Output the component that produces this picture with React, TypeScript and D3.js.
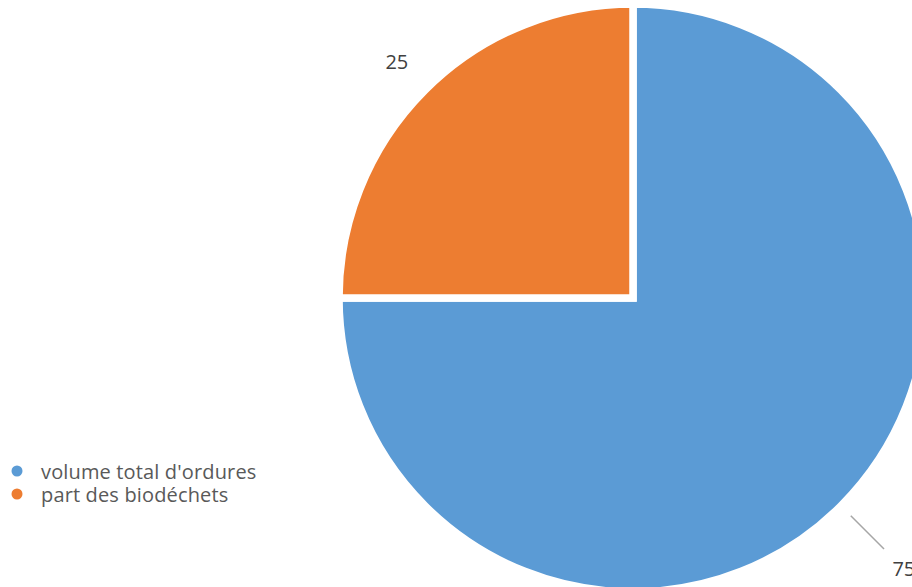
import React from "react";
import * as d3 from "d3";

const categories = ["volume total d'ordures", "part des biodéchets"];
const values = [75, 25];
const colors = ["#5B9BD5", "#ED7D31"];

const W = 912;
const H = 587;
const cx = 633;
const cy = 298;
const R = 294;

export default function App() {
  const pie = d3.pie<number>().sort(null).value((d) => d);
  const arcs = pie(values);
  const arc = d3.arc<d3.PieArcDatum<number>>().innerRadius(0).outerRadius(R);
  const polar = (a: number, r: number) => [Math.sin(a) * r, -Math.cos(a) * r];
  const labelR = [383, 334];
  return (
    <svg
      width={W}
      height={H}
      style={{ position: "absolute", left: 0, top: 0, fontFamily: "'Open Sans', sans-serif" }}
    >
      <rect width={W} height={H} fill="#fff" />
      <g transform={`translate(${cx},${cy})`}>
        <circle r={R - 1} fill="none" stroke="#e6e6e6" strokeWidth={1} />
        {arcs.map((a, i) => (
          <path key={i} d={arc(a) || ""} fill={colors[i]} stroke="#fff" strokeWidth={7.5} strokeLinejoin="miter" />
        ))}
        {arcs.map((a, i) => {
          const mid = (a.startAngle + a.endAngle) / 2;
          const [lx, ly] = polar(mid, labelR[i]);
          const hasLeader = i === 0;
          const [x1, y1] = polar(mid, 308);
          const [x2, y2] = polar(mid, 355);
          return (
            <g key={"l" + i}>
              {hasLeader && <line x1={x1} y1={y1} x2={x2} y2={y2} stroke="#a6a6a6" strokeWidth={1.5} />}
              <text
                x={lx}
                y={ly}
                textAnchor="middle"
                dominantBaseline="central"
                fontSize={20}
                fill="#404040"
              >
                {values[i]}
              </text>
            </g>
          );
        })}
      </g>
      <g>
        {categories.map((c, i) => (
          <g key={c} transform={`translate(17,${471 + i * 23})`}>
            <circle r={5.5} fill={colors[i]} />
            <text x={24} y={0} dominantBaseline="central" fontSize={20} letterSpacing={0.15} fill="#595959">
              {c}
            </text>
          </g>
        ))}
      </g>
    </svg>
  );
}
